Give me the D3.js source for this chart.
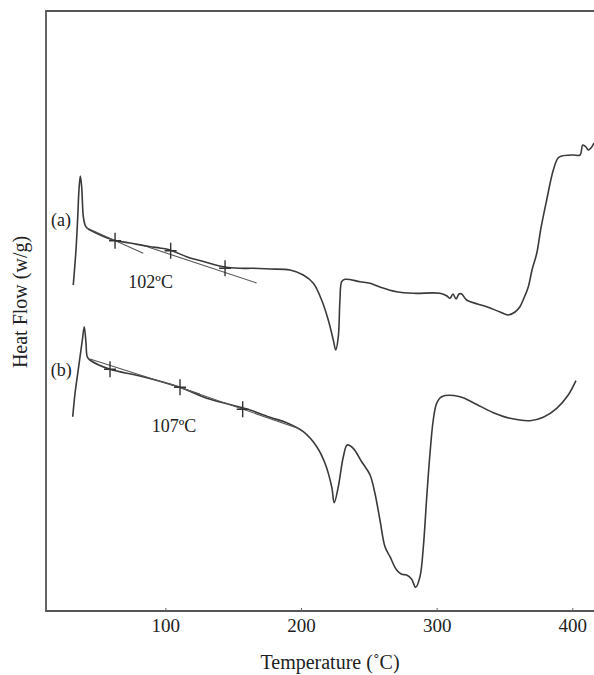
<!DOCTYPE html>
<html>
<head>
<meta charset="utf-8">
<script src="https://cdn.jsdelivr.net/npm/d3@7"></script>
<style>
  html, body { margin: 0; padding: 0; background: #fff; }
  svg { display: block; }
  text { font-family: "Liberation Serif", "Times New Roman", serif; fill: #222; }
</style>
</head>
<body>
<svg id="chart" width="594" height="675"></svg>
<script>
// ---- Data (temperature in °C, heat flow in arbitrary units) ----
const curveA_T = [32.1,34.1,35.4,36.3,37.3,38.3,39.5,40.8,42.4,44.4,61.6,73.9,88.7,96.0,103.4,115.7,129.2,142.7,155.0,164.6,177.1,191.9,201.7,209.1,215.2,220.1,223.8,225.6,227.5,228.7,230.0,232.4,243.5,250.9,258.2,270.5,282.8,302.5,307.6,309.8,312.0,314.3,316.5,318.5,322.1,336.9,346.7,352.8,357.8,361.4,364.4,367.6,370.3,373.8,376.9,381.1,386.0,389.5,392.4,400.7,405.7,407.7,410.1,411.8,413.8,416.0];
const curveA_V = [326,361,394.3,421,435,424.3,394.3,386,382.7,381,371,368,364.3,363,361,354.3,349,344.3,342.7,342.7,342,341,336,327.7,311,291,271,261,274.3,311,329.3,331.7,329.3,327.7,324,319.3,317.7,317.7,315,312.7,317,312,317,317,311,304.3,299,296,299,304.3,313,324.3,341,357.7,383,411,441,453,455,456,456,466,464,461,463,468];

const curveB_T = [31.7,33.4,35.4,37.1,38.8,40.2,41.5,42.4,44.4,59.2,81.3,110.8,130.5,157.5,162.4,177.1,189.4,201.7,211.6,217.7,222.6,224.5,227.5,231.2,234.1,238.5,244.7,250.9,254.5,258.2,261.9,265.6,270.5,274.2,277.9,281.6,284.5,287.7,290.2,292.7,295.1,297.5,300.0,303.7,317.2,327.0,341.8,354.1,368.8,378.6,388.5,397.0,402.7];
const curveB_V = [194.3,217.7,237.7,254.3,271,284.3,267.7,254.3,251,241.7,235,223.7,212.7,203,201,193.7,188.3,179.3,164.3,147.7,124.3,108.3,124.3,154.3,166,162.7,149.3,136,117.7,91,64.3,54.3,41,36.7,36,31.7,23.7,34.3,64.3,114.3,157.7,191,207.7,214.3,214.3,208.3,198.3,192.7,190.3,193.7,202.7,216,230.3];

// tangent construction lines [T1, V1, T2, V2]
const tangentsA = [[42.2,383,83.7,357.7],[87.2,364,167.3,328]];
const tangentsB = [[44.4,252,125.5,217],[103.4,227,199.3,182]];

// tangent-point markers
const crossA_T = [62.9,103.9,144.0];
const crossA_V = [370.3,360.3,342.7];
const crossB_T = [59.2,110.8,157.0];
const crossB_V = [241.7,223.7,201.7];

// annotations
const labels = [
  {text: "(a)", T: 15.7, V: 385},
  {text: "(b)", T: 15.5, V: 235},
  {text: "102ºC", T: 72.7, V: 323},
  {text: "107ºC", T: 89.9, V: 179.3}
];

const xTicks = [100, 200, 300, 400];
const xTitle = "Temperature (˚C)";
const yTitle = "Heat Flow (w/g)";

// ---- Layout ----
const W = 594, H = 675;
const mLeft = 46, mRight = 594, mTop = 11, mBottom = 611;

const x = d3.scaleLinear().domain([12, 416]).range([mLeft, mRight]);
const y = d3.scaleLinear().domain([0, 600]).range([mBottom, mTop]);

const svg = d3.select("#chart");

// frame (left, top, bottom lines)
svg.append("path")
  .attr("d", `M${mRight},${mTop}H${mLeft}V${mBottom}H${mRight}`)
  .attr("fill", "none").attr("stroke", "#555").attr("stroke-width", 1.8);

// x axis
const xAxis = d3.axisBottom(x).tickValues(xTicks).tickSize(-3).tickPadding(8).tickFormat(d3.format("d"));
const gx = svg.append("g").attr("transform", `translate(0,${mBottom})`).call(xAxis);
gx.select(".domain").remove();
gx.selectAll(".tick line").attr("stroke", "#666").attr("stroke-width", 1);
gx.selectAll(".tick text")
  .attr("font-family", "Liberation Serif, Times New Roman, serif")
  .attr("font-size", 19).attr("fill", "#222");

// axis titles
svg.append("text")
  .attr("x", 330).attr("y", 669)
  .attr("text-anchor", "middle").attr("font-size", 20)
  .text(xTitle);

svg.append("text")
  .attr("transform", "translate(27,302) rotate(-90)")
  .attr("text-anchor", "middle").attr("font-size", 20)
  .text(yTitle);

const line = d3.line().x(d => x(d[0])).y(d => y(d[1])).curve(d3.curveCatmullRom.alpha(0.5));

function drawCurve(T, V) {
  const pts = T.map((t, i) => [t, V[i]]);
  svg.append("path").datum(pts)
    .attr("d", line)
    .attr("fill", "none").attr("stroke", "#3a3a3a").attr("stroke-width", 1.6)
    .attr("stroke-linejoin", "round");
}
drawCurve(curveA_T, curveA_V);
drawCurve(curveB_T, curveB_V);

function drawTangents(list) {
  svg.append("g").selectAll("line").data(list).join("line")
    .attr("x1", d => x(d[0])).attr("y1", d => y(d[1]))
    .attr("x2", d => x(d[2])).attr("y2", d => y(d[3]))
    .attr("stroke", "#555").attr("stroke-width", 1.1);
}
drawTangents(tangentsA);
drawTangents(tangentsB);

function drawCrosses(T, V) {
  const g = svg.append("g");
  T.forEach((t, i) => {
    const cx = x(t), cy = y(V[i]);
    g.append("path")
      .attr("d", `M${cx - 6},${cy}H${cx + 6}M${cx},${cy - 8}V${cy + 8}`)
      .attr("stroke", "#333").attr("stroke-width", 1.4).attr("fill", "none");
  });
}
drawCrosses(crossA_T, crossA_V);
drawCrosses(crossB_T, crossB_V);

svg.append("g").selectAll("text").data(labels).join("text")
  .attr("x", d => x(d.T)).attr("y", d => y(d.V))
  .attr("font-size", 18)
  .text(d => d.text);
</script>
</body>
</html>
